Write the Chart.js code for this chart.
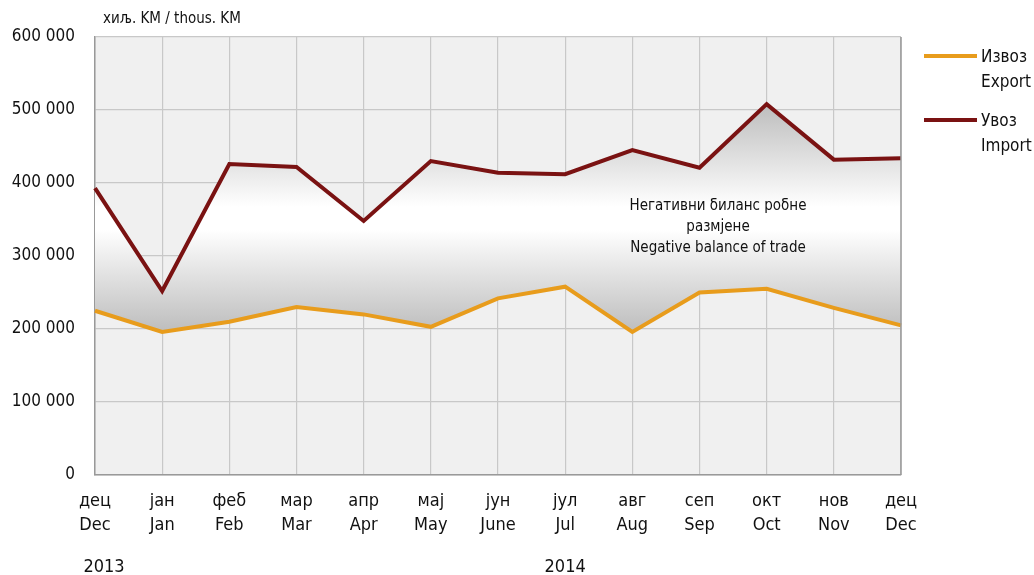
<!DOCTYPE html>
<html lang="sr">
<head>
  <meta charset="UTF-8">
  <title>Извоз и увоз / Export and import</title>
  <script src="https://cdn.jsdelivr.net/npm/chart.js"></script>
  <style>
    html, body { margin: 0; padding: 0; background: #fff; }
    .chart-box { position: relative; width: 1034px; height: 575px; }
  </style>
</head>
<body>
  <div class="chart-box">
    <canvas id="tradeChart"></canvas>
  </div>

  <script>
    // months, Cyrillic over Latin
    const months = [
      ['дец', 'Dec'], ['јан', 'Jan'], ['феб', 'Feb'], ['мар', 'Mar'],
      ['апр', 'Apr'], ['мај', 'May'], ['јун', 'June'], ['јул', 'Jul'],
      ['авг', 'Aug'], ['сеп', 'Sep'], ['окт', 'Oct'], ['нов', 'Nov'],
      ['дец', 'Dec']
    ];
    const years = ['2013', '2014'];
    const yearAt = [0, 7];

    // thousands KM
    const exportVals = [225000, 196000, 210000, 230000, 220000, 203000, 242000,
                        258000, 196000, 250000, 255000, 229000, 205000];
    const importVals = [393000, 252000, 426000, 422000, 348000, 430000, 414000,
                        412000, 445000, 421000, 508000, 432000, 434000];

    const seriesNames = [['Извоз', 'Export'], ['Увоз', 'Import']];
    const unitLabel = 'хиљ. KM / thous. KM';
    const noteLines = ['Негативни биланс робне', 'размјене', 'Negative balance of trade'];

    const FONT = "'Liberation Sans Narrow', 'Arial Narrow', 'DejaVu Sans Condensed', sans-serif";
    const EXPORT_COLOR = '#E89C1C';
    const IMPORT_COLOR = '#7A1212';

    const fmt = v => String(v).replace(/\B(?=(\d{3})+(?!\d))/g, ' ');

    // gray - white - gray band between the two lines
    function bandFill(context) {
      const chart = context.chart;
      const { ctx, chartArea, scales } = chart;
      if (!chartArea) return 'rgba(200,200,200,0.6)';
      const top = scales.y.getPixelForValue(Math.max(...importVals));
      const bottom = scales.y.getPixelForValue(Math.min(...exportVals));
      const g = ctx.createLinearGradient(0, top, 0, bottom);
      g.addColorStop(0, '#bdbdbd');
      g.addColorStop(0.45, '#ffffff');
      g.addColorStop(0.55, '#ffffff');
      g.addColorStop(1, '#bdbdbd');
      return g;
    }

    const extras = {
      id: 'extras',
      beforeDraw(chart) {
        const { ctx, chartArea: a } = chart;
        ctx.save();
        ctx.fillStyle = '#f0f0f0';
        ctx.fillRect(a.left, a.top, a.right - a.left, a.bottom - a.top);
        ctx.restore();
      },
      afterDraw(chart) {
        const { ctx, chartArea: a, scales } = chart;
        ctx.save();
        // right frame
        ctx.strokeStyle = '#999';
        ctx.lineWidth = 1.5;
        ctx.beginPath();
        ctx.moveTo(a.right, a.top);
        ctx.lineTo(a.right, a.bottom);
        ctx.stroke();

        ctx.fillStyle = '#111';
        ctx.textBaseline = 'middle';

        // unit
        ctx.font = '15px ' + FONT;
        ctx.textAlign = 'left';
        ctx.fillText(unitLabel, a.left + 8, 19);

        // years
        ctx.font = '18px ' + FONT;
        ctx.textAlign = 'center';
        years.forEach((y, i) => {
          let x = scales.x.getPixelForValue(yearAt[i]);
          if (i === 0) x += 9;
          ctx.fillText(y, x, 567);
        });

        // note in the band
        ctx.font = '15px ' + FONT;
        noteLines.forEach((t, i) => ctx.fillText(t, 718, 206 + i * 21));

        // legend
        const rows = [56, 120];
        chart.data.datasets.forEach((ds, i) => {
          ctx.strokeStyle = ds.borderColor;
          ctx.lineWidth = 4;
          ctx.beginPath();
          ctx.moveTo(924, rows[i]);
          ctx.lineTo(977, rows[i]);
          ctx.stroke();
          ctx.font = '17px ' + FONT;
          ctx.textAlign = 'left';
          ctx.fillStyle = '#111';
          seriesNames[i].forEach((t, j) => ctx.fillText(t, 981, rows[i] + 2 + j * 25));
        });
        ctx.restore();
      }
    };

    new Chart(document.getElementById('tradeChart'), {
      type: 'line',
      data: {
        labels: months,
        datasets: [
          {
            label: 'Export',
            data: exportVals,
            borderColor: EXPORT_COLOR,
            borderWidth: 4,
            pointRadius: 0,
            tension: 0,
            fill: false
          },
          {
            label: 'Import',
            data: importVals,
            borderColor: IMPORT_COLOR,
            backgroundColor: bandFill,
            borderWidth: 4,
            pointRadius: 0,
            tension: 0,
            fill: '-1'
          }
        ]
      },
      options: {
        responsive: true,
        maintainAspectRatio: false,
        animation: false,
        layout: { padding: { left: 0, top: 37, right: 133, bottom: 0 } },
        plugins: {
          legend: { display: false },
          tooltip: { enabled: false }
        },
        scales: {
          x: {
            offset: false,
            grid: { color: '#c8c8c8', lineWidth: 1.2, drawTicks: false },
            border: { color: '#999', width: 1.5 },
            ticks: {
              autoSkip: false,
              maxRotation: 0,
              padding: 14,
              color: '#111',
              font: { family: FONT, size: 18, lineHeight: 1.35 }
            },
            afterFit(s) { s.height = 100; }
          },
          y: {
            min: 0,
            max: 600000,
            grid: { color: '#c8c8c8', lineWidth: 1.2, drawTicks: false },
            border: { color: '#999', width: 1.5 },
            ticks: {
              stepSize: 100000,
              padding: 20,
              color: '#111',
              font: { family: FONT, size: 17 },
              callback: v => fmt(v)
            },
            afterFit(s) { s.width = 95; }
          }
        }
      },
      plugins: [extras]
    });
  </script>
</body>
</html>
